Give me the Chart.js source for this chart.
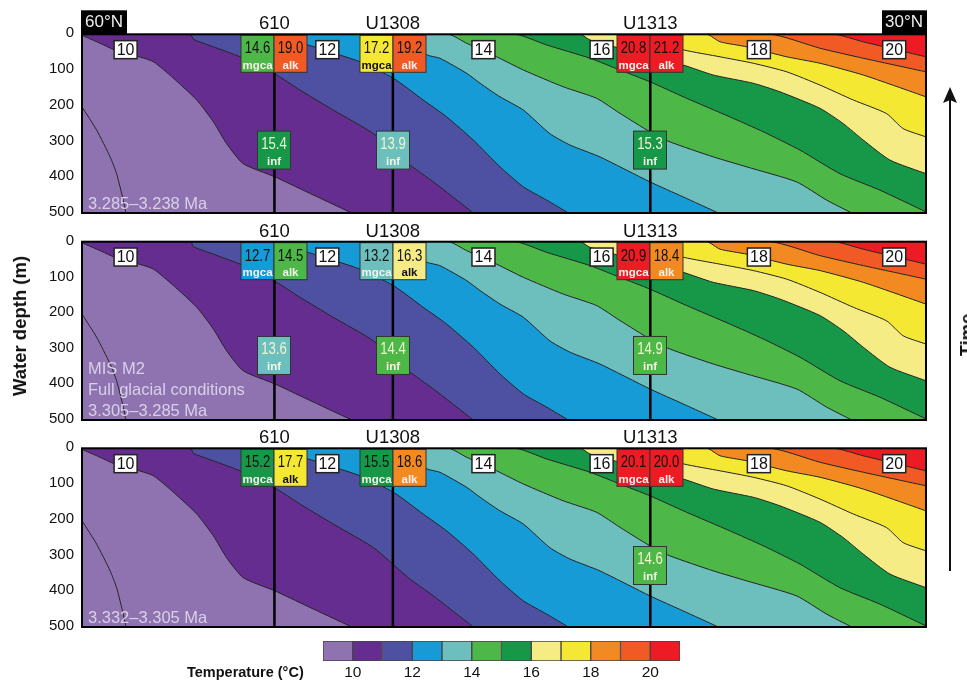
<!DOCTYPE html>
<html lang="en">
  <head>
    <meta charset="utf-8" />
    <title>Water temperature sections</title>
    <style>
      * {
        margin: 0;
        padding: 0;
        font-family: 'Liberation Sans', sans-serif;
      }
      html, body {
        width: 967px;
        height: 682px;
        overflow: hidden;
        background: #fff;
      }
      canvas, .txt, svg {
        position: absolute;
        display: block;
      }
      .txt {
        font-weight: bold;
        color: #111;
        white-space: nowrap;
      }
      #depthTitle {
        left: 20px;
        top: 326px;
        font-size: 18.5px;
        transform: translate(-50%, -50%) rotate(-90deg);
      }
      #timeTitle {
        left: 967px;
        top: 335px;
        font-size: 18.5px;
        transform: translate(-50%, -50%) rotate(-90deg);
      }
      #tempTitle {
        left: 187px;
        top: 664px;
        font-size: 14.5px;
      }
    </style>
  </head>
  <body>
    <canvas id="panel1" width="967" height="230" style="left:0;top:0"></canvas>
    <canvas id="panel2" width="967" height="230" style="left:0;top:207px"></canvas>
    <canvas id="panel3" width="967" height="230" style="left:0;top:414px"></canvas>
    <canvas id="colorbar" width="967" height="50" style="left:0;top:632px"></canvas>
    <div class="txt" id="depthTitle">Water depth (m)</div>
    <div class="txt" id="timeTitle">Time</div>
    <div class="txt" id="tempTitle">Temperature (°C)</div>
    <svg width="967" height="682" style="left:0;top:0">
      <line x1="950" y1="98" x2="950" y2="571" stroke="#111" stroke-width="2" />
      <path d="M950 87 L957 103 L950 100 L943 103 Z" fill="#111" />
    </svg>
    <script src="https://cdn.jsdelivr.net/npm/chart.js"></script>
    <script>
      // setup: isotherms as [latitude, depth]
      const iso9 = [[60, 203], [59.48, 268], [59.0, 343], [58.77, 390], [58.53, 465], [58.44, 500]];
      const iso10 = [[60, 3], [59.36, 25], [58.83, 44], [58.18, 58], [57.46, 77], [56.75, 123], [55.92, 184], [55.33, 245], [54.86, 306], [54.27, 362], [53.14, 399], [52.01, 441], [50.41, 500]];
      const iso11 = [[56.14, 0], [56.04, 14], [55.33, 35], [54.38, 63], [53.14, 111], [52.25, 156], [51.07, 212], [49.64, 278], [48.4, 362], [47.51, 413], [46.09, 500]];
      const iso12 = [[53.14, 0], [51.96, 30], [50.83, 58], [50.12, 77], [48.93, 123], [47.87, 184], [47.04, 231], [46.09, 296], [45.14, 371], [44.31, 427], [43.48, 464], [42.71, 500]];
      const iso13 = [[49.0, 0], [47.73, 58], [47.28, 67], [46.33, 109], [45.85, 137], [45.14, 175], [44.31, 212], [43.37, 278], [42.65, 310], [41.59, 343], [39.81, 413], [38.63, 455], [37.38, 500]];
      const iso14 = [[46.98, 0], [46.33, 25], [45.26, 63], [44.31, 100], [42.89, 147], [41.71, 179], [40.88, 221], [39.81, 273], [39.1, 301], [37.56, 343], [36.37, 371], [34.6, 413], [33.53, 464], [32.64, 500]];
      const iso15 = [[44.61, 0], [43.48, 30], [41.94, 67], [40.88, 100], [39.81, 133], [38.51, 179], [36.97, 231], [35.78, 273], [34.48, 324], [33.06, 390], [31.64, 436], [30, 497]];
      const iso16 = [[42.3, 0], [41.94, 16], [40.4, 49], [38.63, 86], [37.56, 114], [36.14, 137], [35.19, 161], [33.77, 207], [32.94, 250], [32.23, 296], [31.28, 352], [30, 390]];
      const iso17 = [[40.64, 0], [38.6, 44], [37.32, 63], [36.14, 81], [34.95, 105], [33.77, 142], [32.58, 184], [31.4, 222], [30.81, 264], [30, 287]];
      const iso18 = [[37.8, 0], [37.32, 21], [36.37, 35], [34.95, 63], [33.77, 81], [32.23, 114], [30, 175]];
      const iso19 = [[35.55, 0], [33.77, 39], [32.23, 67], [30, 105]];
      const iso20 = [[33.29, 0], [32.23, 21], [30, 63]];
      const isotherms = [iso9, iso10, iso11, iso12, iso13, iso14, iso15, iso16, iso17, iso18, iso19, iso20];

      // one colour per degree, 9-10 up to 20-21
      const bandColors = ['#8f72b0', '#652d90', '#4e51a2', '#169bd7', '#6cbfbc', '#4db748', '#169848', '#f6ec85', '#f5e833', '#f28a21', '#f15a24', '#ed1c24'];
      const bandStart = 9;
      const legendTicks = [10, 12, 14, 16, 18, 20];

      // white labels sitting on the contours
      const contourLabels = ['10', '12', '14', '16', '18', '20'];
      const contourLabelLat = [58.45, 51.28, 45.73, 41.53, 35.94, 31.13];
      const contourLabelDepth = 43;

      const siteNames = ['610', 'U1308', 'U1313'];
      const siteLat = [53.16, 48.95, 39.8];
      const depthTicks = [0, 100, 200, 300, 400, 500];

      const mgcaP1 = [14.6, 17.2, 20.8];
      const alkP1 = [19.0, 19.2, 21.2];
      const infP1 = [15.4, 13.9, 15.3];
      const mgcaP2 = [12.7, 13.2, 20.9];
      const alkP2 = [14.5, 16.3, 18.4];
      const infP2 = [13.6, 14.4, 14.9];
      const mgcaP3 = [15.2, 15.5, 20.1];
      const alkP3 = [17.7, 18.6, 20.0];
      const infP3 = [null, null, 14.6];

      const captionP1 = ['3.285–3.238 Ma'];
      const captionP2 = ['MIS M2', 'Full glacial conditions', '3.305–3.285 Ma'];
      const captionP3 = ['3.332–3.305 Ma'];

      function colorFor(t) {
        const i = Math.floor(t) - bandStart;
        return bandColors[Math.min(i, bandColors.length - 1)];
      }

      // pale bands need a dark label
      function labelColorFor(t) {
        const i = Math.floor(t);
        return i === 16 || i === 17 ? '#111' : '#f4f1ea';
      }

      function drawBox(ctx, x, y, w, h, t, numColor, name) {
        ctx.fillStyle = colorFor(t);
        ctx.strokeStyle = '#333';
        ctx.lineWidth = 1;
        ctx.fillRect(x, y, w, h);
        ctx.strokeRect(x, y, w, h);
        ctx.textAlign = 'center';
        ctx.textBaseline = 'middle';
        // the numbers are set condensed in the figure
        ctx.save();
        ctx.translate(x + w / 2, y + 13.5);
        ctx.scale(0.82, 1);
        ctx.fillStyle = numColor;
        ctx.font = '16px "Liberation Sans"';
        ctx.fillText(t.toFixed(1), 0, 0);
        ctx.restore();
        ctx.fillStyle = name === 'inf' ? '#f4f6e6' : labelColorFor(t);
        ctx.font = 'bold 11.5px "Liberation Sans"';
        ctx.fillText(name, x + w / 2, y + 30.5);
      }

      // plot background, frame, boxes and labels
      const panelDecor = {
        id: 'panelDecor',
        beforeDatasetsDraw(chart) {
          const { ctx, chartArea: { left, top, width, height } } = chart;
          ctx.fillStyle = bandColors[bandColors.length - 1];
          ctx.fillRect(left, top, width, height);
        },
        afterDatasetsDraw(chart, args, opts) {
          const { ctx, chartArea: { left, right, top, bottom }, scales: { x, y } } = chart;
          ctx.save();

          // caption
          ctx.fillStyle = '#d9d0e8';
          ctx.font = '16.5px "Liberation Sans"';
          ctx.textAlign = 'left';
          ctx.textBaseline = 'alphabetic';
          opts.caption.forEach((line, i) => {
            ctx.fillText(line, left + 6, bottom - 4.5 - (opts.caption.length - 1 - i) * 20.8);
          });

          // contour labels
          contourLabels.forEach((label, i) => {
            const px = x.getPixelForValue(contourLabelLat[i]);
            const py = y.getPixelForValue(contourLabelDepth);
            ctx.fillStyle = '#fff';
            ctx.strokeStyle = '#222';
            ctx.lineWidth = 1.5;
            ctx.fillRect(px - 11.5, py - 9, 23, 18);
            ctx.strokeRect(px - 11.5, py - 9, 23, 18);
            ctx.fillStyle = '#111';
            ctx.font = '16px "Liberation Sans"';
            ctx.textAlign = 'center';
            ctx.textBaseline = 'middle';
            ctx.fillText(label, px, py + 0.5);
          });

          // proxy boxes at each site
          siteLat.forEach((lat, i) => {
            const px = Math.round(x.getPixelForValue(lat));
            drawBox(ctx, px - 33, top + 1, 33, 37, opts.mgca[i], '#111', 'mgca');
            drawBox(ctx, px, top + 1, 33, 37, opts.alk[i], '#111', 'alk');
            if (opts.inf[i] !== null) {
              const py = y.getPixelForValue(opts.infDepth);
              drawBox(ctx, px - 16.5, py - 19, 33, 38, opts.inf[i], '#f1f5cf', 'inf');
            }
          });

          // frame
          ctx.strokeStyle = '#000';
          ctx.lineWidth = 2;
          ctx.strokeRect(left, top, right - left, bottom - top);

          // latitude tags, top panel only
          if (opts.tags) {
            ctx.fillStyle = '#000';
            ctx.fillRect(left - 1, top - 24, 46, 24);
            ctx.fillRect(right - 44, top - 24, 45, 24);
            ctx.fillStyle = '#eee';
            ctx.font = '17px "Liberation Sans"';
            ctx.textAlign = 'center';
            ctx.textBaseline = 'middle';
            ctx.fillText('60°N', left + 22, top - 11.5);
            ctx.fillText('30°N', right - 22, top - 11.5);
          }
          ctx.restore();
        },
      };

      function toPoints(iso) {
        return iso.map(([lat, depth]) => ({ x: lat, y: depth }));
      }

      function buildDatasets() {
        const sites = siteLat.map((lat) => ({
          data: [{ x: lat, y: 0 }, { x: lat, y: 500 }],
          borderColor: '#000',
          borderWidth: 2.5,
          pointRadius: 0,
          showLine: true,
          fill: false,
        }));
        // first dataset is painted last, so the coldest fill ends up on top
        const lines = isotherms.map((iso, i) => {
          const pts = toPoints(iso);
          if (pts[0].x !== 60) pts.unshift({ x: 60, y: 0 }); // run along the top edge
          return {
            data: pts,
            borderColor: '#262626',
            borderWidth: 1,
            pointRadius: 0,
            showLine: true,
            tension: 0.2,
            fill: i === 0 ? false : { value: 500 },
            backgroundColor: bandColors[i - 1],
          };
        });
        return [...sites, ...lines];
      }

      function makePanel(id, plotTop, plotBottom, opts) {
        return new Chart(document.getElementById(id), {
          type: 'scatter',
          data: { datasets: buildDatasets() },
          options: {
            responsive: false,
            maintainAspectRatio: false,
            animation: false,
            layout: { padding: { left: 0, right: 41, top: 0, bottom: 230 - plotBottom - 11.7 } },
            plugins: {
              legend: { display: false },
              tooltip: { enabled: false },
              panelDecor: opts,
            },
            scales: {
              x: {
                type: 'linear',
                position: 'top',
                reverse: true,
                min: 30,
                max: 60,
                grid: { display: false, drawTicks: false },
                border: { display: false },
                afterBuildTicks: (s) => {
                  s.ticks = siteLat.map((v) => ({ value: v }));
                },
                afterFit: (s) => {
                  s.height = plotTop;
                },
                ticks: {
                  autoSkip: false,
                  maxRotation: 0,
                  padding: -1,
                  color: '#111',
                  font: { size: 18.5, family: 'Liberation Sans' },
                  callback: (v, i) => siteNames[i],
                },
              },
              y: {
                type: 'linear',
                reverse: true,
                min: 0,
                max: 500,
                grid: { display: false, drawTicks: false },
                border: { display: false },
                afterBuildTicks: (s) => {
                  s.ticks = depthTicks.map((v) => ({ value: v }));
                },
                afterFit: (s) => {
                  s.width = 82;
                },
                ticks: {
                  padding: 8,
                  labelOffset: -1,
                  color: '#111',
                  font: { size: 15, family: 'Liberation Sans' },
                },
              },
            },
          },
          plugins: [panelDecor],
        });
      }

      // render init block
      makePanel('panel1', 34.3, 212.7, { mgca: mgcaP1, alk: alkP1, inf: infP1, infDepth: 324, caption: captionP1, tags: true });
      makePanel('panel2', 34.7, 213, { mgca: mgcaP2, alk: alkP2, inf: infP2, infDepth: 319, caption: captionP2, tags: false });
      makePanel('panel3', 34.3, 212.7, { mgca: mgcaP3, alk: alkP3, inf: infP3, infDepth: 328, caption: captionP3, tags: false });

      // colour bar
      new Chart(document.getElementById('colorbar'), {
        type: 'bar',
        data: {
          labels: ['T'],
          datasets: bandColors.map((c, i) => ({
            data: [[bandStart + i, bandStart + i + 1]],
            backgroundColor: c,
            borderColor: '#444',
            borderWidth: 1,
            borderSkipped: false,
            barPercentage: 1,
            categoryPercentage: 1,
            grouped: false,
          })),
        },
        options: {
          indexAxis: 'y',
          responsive: false,
          maintainAspectRatio: false,
          animation: false,
          layout: { padding: { left: 323, right: 287, top: 9, bottom: 0 } },
          plugins: { legend: { display: false }, tooltip: { enabled: false } },
          scales: {
            y: { display: false },
            x: {
              min: bandStart,
              max: bandStart + bandColors.length,
              grid: { display: false, drawTicks: false },
              border: { display: false },
              afterBuildTicks: (s) => {
                s.ticks = legendTicks.map((v) => ({ value: v }));
              },
              afterFit: (s) => {
                s.height = 21;
              },
              ticks: {
                padding: 2,
                maxRotation: 0,
                autoSkip: false,
                color: '#111',
                font: { size: 15.5, family: 'Liberation Sans' },
              },
            },
          },
        },
      });
    </script>
  </body>
</html>
